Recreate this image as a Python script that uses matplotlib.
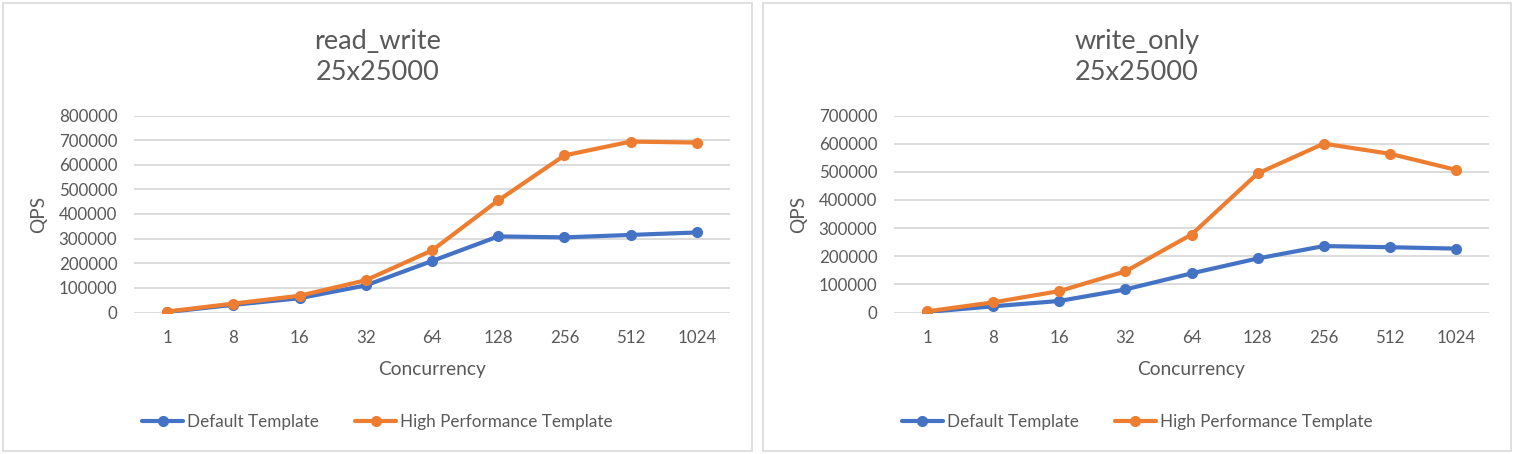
import matplotlib
matplotlib.use("Agg")
import matplotlib.pyplot as plt
from matplotlib.patches import Rectangle

plt.rcParams['font.family'] = ['Lato', 'DejaVu Sans']

categories = ["1", "8", "16", "32", "64", "128", "256", "512", "1024"]

rw_default = [2000, 31000, 58000, 110000, 209000, 309000, 305000, 315000, 325000]
rw_high = [4000, 36000, 68000, 131000, 252000, 455000, 638000, 694000, 690000]

wo_default = [2000, 22000, 41000, 82000, 139000, 192000, 236000, 232000, 227000]
wo_high = [4000, 36000, 76000, 146000, 277000, 494000, 600000, 564000, 507000]

titles = ["read_write\n25x25000", "write_only\n25x25000"]
series_names = ["Default Template", "High Performance Template"]
ymaxes = [800000, 700000]

W, H = 1514, 454
fig = plt.figure(figsize=(W / 100, H / 100), dpi=100)

BLUE = "#4472C4"
ORANGE = "#ED7D31"
GRID = "#D9D9D9"
TXT = "#595959"

panels = [(3, 752), (763, 1511)]
axes_x = [(134, 730), (894, 1489)]
data = [(rw_default, rw_high), (wo_default, wo_high)]

for i in range(2):
    px0, px1 = panels[i]
    fig.patches.append(Rectangle((px0 / W, 3 / H), (px1 - px0) / W, (H - 6) / H,
                                 transform=fig.transFigure, fill=False,
                                 edgecolor=GRID, linewidth=1.2))
    ax0, ax1 = axes_x[i]
    top, bottom = 115.5, 312.5
    ax = fig.add_axes([ax0 / W, (H - bottom) / H, (ax1 - ax0) / W, (bottom - top) / H])
    x = list(range(len(categories)))
    d, h = data[i]
    ax.plot(x, d, color=BLUE, linewidth=3.0, marker='o', markersize=7,
            label=series_names[0], solid_capstyle='round', zorder=3)
    ax.plot(x, h, color=ORANGE, linewidth=3.0, marker='o', markersize=7,
            label=series_names[1], solid_capstyle='round', zorder=4)
    ax.set_xlim(-0.5, len(categories) - 0.5)
    ax.set_ylim(0, ymaxes[i])
    ax.set_yticks(range(0, ymaxes[i] + 1, 100000))
    ax.set_yticklabels([str(v) for v in range(0, ymaxes[i] + 1, 100000)])
    ax.set_xticks(x)
    ax.set_xticklabels(categories)
    for s in ax.spines.values():
        s.set_visible(False)
    ax.grid(axis='y', color=GRID, linewidth=1.3)
    ax.set_axisbelow(True)
    ax.tick_params(axis='both', length=0, labelsize=12.2, colors=TXT)
    ax.tick_params(axis='y', pad=12)
    ax.tick_params(axis='x', pad=12.5)
    ax.set_xlabel("Concurrency", fontsize=13.8, color=TXT, labelpad=11)
    ax.set_ylabel("QPS", fontsize=13.8, color=TXT, labelpad=8)
    cx = (px0 + px1) / 2 / W
    fig.text(cx, (H - 57) / H, titles[i], ha='center', va='center',
             fontsize=19.5, color=TXT, linespacing=1.32)
    fig.legend(handles=ax.get_lines(), labels=series_names,
               loc='center', bbox_to_anchor=(cx, (H - 422) / H),
               ncol=2, frameon=False, fontsize=12.3, labelcolor=TXT,
               handlelength=2.4, handletextpad=0.25, columnspacing=2.1,
               numpoints=1)

fig.savefig("out.png", dpi=100, facecolor="white")
